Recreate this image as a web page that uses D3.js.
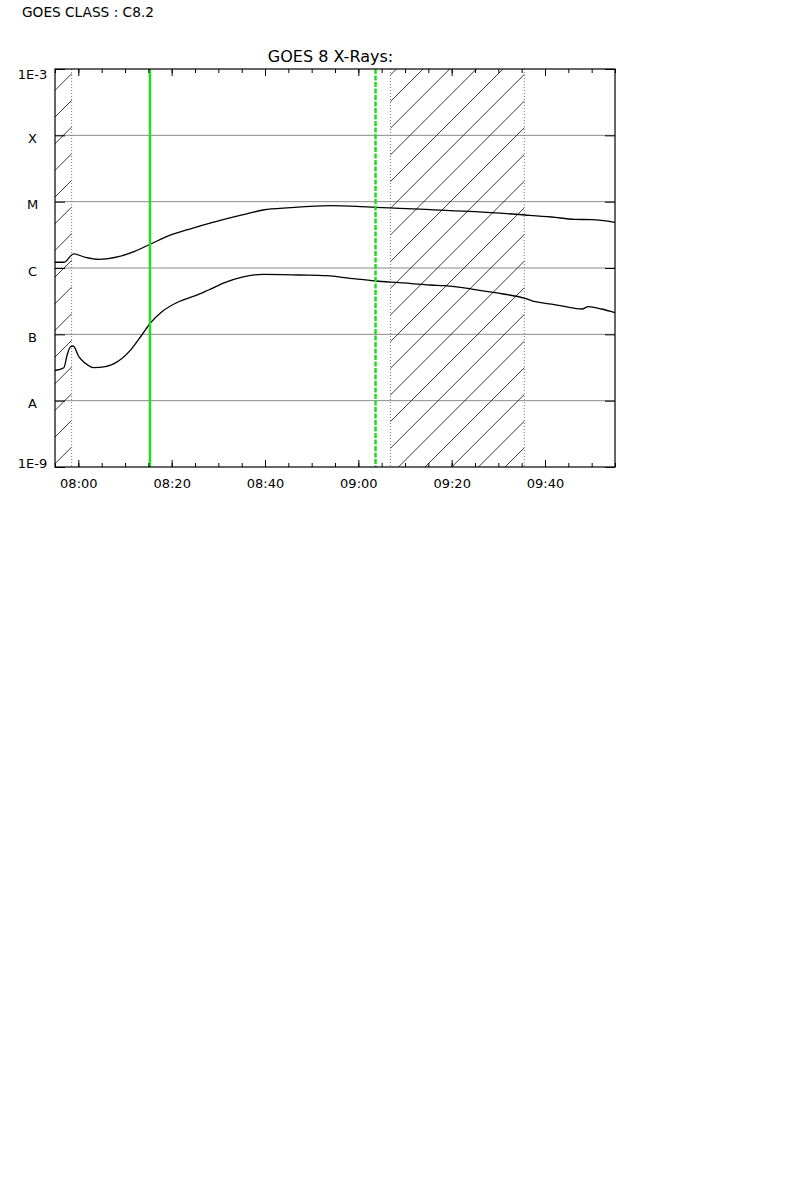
<!DOCTYPE html>
<html>
<head>
<meta charset="utf-8">
<script src="https://cdn.jsdelivr.net/npm/d3@7/dist/d3.min.js"></script>
<style>
  html, body { margin: 0; padding: 0; background: #fff; }
  svg { display: block; }
  text { font-family: "DejaVu Sans", sans-serif; fill: #000; }
</style>
</head>
<body>
<svg id="chart" width="790" height="1180"></svg>
<script>
// ---------------- DATA ----------------
const classLabel = "GOES CLASS : C8.2";
const chartTitle = "GOES 8 X-Rays:";
const timeDomain = ["07:55:00", "09:55:00"];

const yTickValues = [1e-9, 1e-8, 1e-7, 1e-6, 1e-5, 1e-4, 1e-3];
const yTickLabels = ["1E-9", "A", "B", "C", "M", "X", "1E-3"];
const gridValues = [1e-8, 1e-7, 1e-6, 1e-5, 1e-4];

// 1-8 Angstrom (upper curve)
const longTimes = ["07:55:00","07:56:54","07:59:00","08:01:30","08:04:24","08:08:36","08:12:12","08:15:24",
  "08:19:24","08:24:24","08:28:36","08:35:06","08:39:36","08:45:24","08:53:54","08:59:36","09:03:36",
  "09:08:54","09:15:24","09:25:00","09:35:42","09:41:24","09:46:24","09:50:00","09:55:00"];
const longFlux = [1.22e-6,1.22e-6,1.63e-6,1.45e-6,1.35e-6,1.48e-6,1.80e-6,2.28e-6,
  3.07e-6,3.97e-6,4.82e-6,6.30e-6,7.49e-6,8.11e-6,8.69e-6,8.51e-6,8.22e-6,
  7.94e-6,7.57e-6,7.06e-6,6.30e-6,5.87e-6,5.42e-6,5.35e-6,4.89e-6];

// 0.5-4 Angstrom (lower curve)
const shortTimes = ["07:55:00","07:56:54","07:57:36","07:58:18","07:58:54","08:00:06","08:01:30","08:03:18",
  "08:05:48","08:08:36","08:11:30","08:13:36","08:15:24","08:17:54","08:21:30","08:25:06","08:27:54",
  "08:31:30","08:35:06","08:39:36","08:47:30","08:53:12","08:58:12","09:03:36","09:08:54","09:15:24",
  "09:18:36","09:24:18","09:29:18","09:35:42","09:37:54","09:41:24","09:46:24","09:47:54","09:49:18",
  "09:52:06","09:55:00"];
const shortFlux = [2.85e-8,3.14e-8,4.88e-8,6.50e-8,6.67e-8,4.60e-8,3.66e-8,3.14e-8,
  3.25e-8,3.96e-8,6.15e-8,9.77e-8,1.47e-7,2.19e-7,3.10e-7,3.82e-7,4.66e-7,
  6.08e-7,7.31e-7,8.03e-7,7.84e-7,7.65e-7,7.00e-7,6.37e-7,6.00e-7,5.54e-7,
  5.41e-7,4.82e-7,4.24e-7,3.49e-7,3.10e-7,2.86e-7,2.47e-7,2.41e-7,2.61e-7,
  2.41e-7,2.13e-7];

// hatched (night / SAA) intervals
const hatchStarts = ["07:55:00", "09:06:54"];
const hatchEnds   = ["07:58:34", "09:35:34"];
// dotted boundary lines
const dottedTimes = ["07:58:34", "09:06:54", "09:35:34"];
// green markers
const startMarker = "08:15:21";
const endMarker   = "09:03:41";

// ---------------- LAYOUT ----------------
const plotL = 55, plotR = 615, plotT = 69, plotB = 467;
const parse = d3.timeParse("%H:%M:%S");

const svg = d3.select("#chart");
const x = d3.scaleTime().domain(timeDomain.map(parse)).range([plotL, plotR]);
const y = d3.scaleLog().domain([1e-9, 1e-3]).range([plotB, plotT]);

svg.append("rect").attr("width", 790).attr("height", 1180).attr("fill", "#fff");

// class label & title
svg.append("text").attr("x", 22).attr("y", 17.3).attr("font-size", 13.7).text(classLabel);
svg.append("text").attr("x", 330.5).attr("y", 62).attr("font-size", 16)
  .attr("text-anchor", "middle").text(chartTitle);

// grid lines
svg.append("g").selectAll("line").data(gridValues).join("line")
  .attr("x1", plotL).attr("x2", plotR)
  .attr("y1", d => y(d)).attr("y2", d => y(d))
  .attr("stroke", "#8a8a8a").attr("stroke-width", 1);

// hatch regions
const defs = svg.append("defs");
const clip = defs.append("clipPath").attr("id", "hatchClip");
clip.selectAll("rect").data(hatchStarts).join("rect")
  .attr("x", (d, i) => x(parse(d)))
  .attr("width", (d, i) => x(parse(hatchEnds[i])) - x(parse(d)))
  .attr("y", plotT).attr("height", plotB - plotT);
const hatchSpacing = 26.67, hatchPhase = 12;
const hatchOffsets = d3.range(Math.floor((plotL + plotT - hatchPhase) / hatchSpacing) - 1,
                              Math.ceil((plotR + plotB - hatchPhase) / hatchSpacing) + 1)
  .map(k => hatchPhase + k * hatchSpacing);
svg.append("g").attr("clip-path", "url(#hatchClip)")
  .selectAll("line").data(hatchOffsets).join("line")
  .attr("x1", c => c - plotB).attr("y1", plotB)
  .attr("x2", c => c - plotT).attr("y2", plotT)
  .attr("stroke", "#222").attr("stroke-width", 0.9);

// dotted boundaries
svg.append("g").selectAll("line").data(dottedTimes).join("line")
  .attr("x1", d => x(parse(d))).attr("x2", d => x(parse(d)))
  .attr("y1", plotT).attr("y2", plotB)
  .attr("stroke", "#777").attr("stroke-width", 1).attr("stroke-dasharray", "1,2");

// curves
const line = d3.line().curve(d3.curveMonotoneX).x(d => x(d[0])).y(d => y(d[1]));
const longData = longTimes.map((t, i) => [parse(t), longFlux[i]]);
const shortData = shortTimes.map((t, i) => [parse(t), shortFlux[i]]);
[longData, shortData].forEach(data => {
  svg.append("path").datum(data).attr("d", line)
    .attr("fill", "none").attr("stroke", "#000").attr("stroke-width", 1.3);
});

// green markers
svg.append("line")
  .attr("x1", x(parse(startMarker))).attr("x2", x(parse(startMarker)))
  .attr("y1", plotT).attr("y2", plotB)
  .attr("stroke", "#22dd22").attr("stroke-width", 2.5);
svg.append("line")
  .attr("x1", x(parse(endMarker))).attr("x2", x(parse(endMarker)))
  .attr("y1", plotT).attr("y2", plotB)
  .attr("stroke", "#22dd22").attr("stroke-width", 2.5).attr("stroke-dasharray", "5,1.5");

// axes ticks (inward)
const minor = d3.timeMinute.every(5), major = d3.timeMinute.every(20);
function xAxisGroup(axisFn, yPos, every, size, labels) {
  const ax = axisFn(x).ticks(every).tickSizeInner(size).tickSizeOuter(0)
    .tickPadding(11.5).tickFormat(labels ? d3.timeFormat("%H:%M") : "");
  const g = svg.append("g").attr("transform", `translate(0,${yPos})`).call(ax);
  g.select(".domain").remove();
  g.selectAll("line").attr("stroke", "#000");
  g.selectAll("text").attr("font-size", 13).attr("font-family", "DejaVu Sans, sans-serif");
  return g;
}
xAxisGroup(d3.axisBottom, plotB, minor, -4, false);
xAxisGroup(d3.axisBottom, plotB, major, -7, true);
xAxisGroup(d3.axisTop, plotT, minor, -4, false);
xAxisGroup(d3.axisTop, plotT, major, -7, false);

function yAxisGroup(axisFn, xPos) {
  const ax = axisFn(y).tickValues(yTickValues).tickSizeInner(-10).tickSizeOuter(0).tickFormat("");
  const g = svg.append("g").attr("transform", `translate(${xPos},0)`).call(ax);
  g.select(".domain").remove();
  g.selectAll("line").attr("stroke", "#000");
}
yAxisGroup(d3.axisLeft, plotL);
yAxisGroup(d3.axisRight, plotR);

// y labels
const labelShift = (i) => i === 0 ? -4 : (i === yTickValues.length - 1 ? 5.5 : 3);
svg.append("g").selectAll("text").data(yTickValues).join("text")
  .attr("x", 32.5).attr("y", (d, i) => y(d) + labelShift(i))
  .attr("dy", "0.36em").attr("text-anchor", "middle").attr("font-size", 13)
  .text((d, i) => yTickLabels[i]);

// frame
svg.append("rect").attr("x", plotL).attr("y", plotT)
  .attr("width", plotR - plotL).attr("height", plotB - plotT)
  .attr("fill", "none").attr("stroke", "#000").attr("stroke-width", 1.2);
</script>
</body>
</html>
